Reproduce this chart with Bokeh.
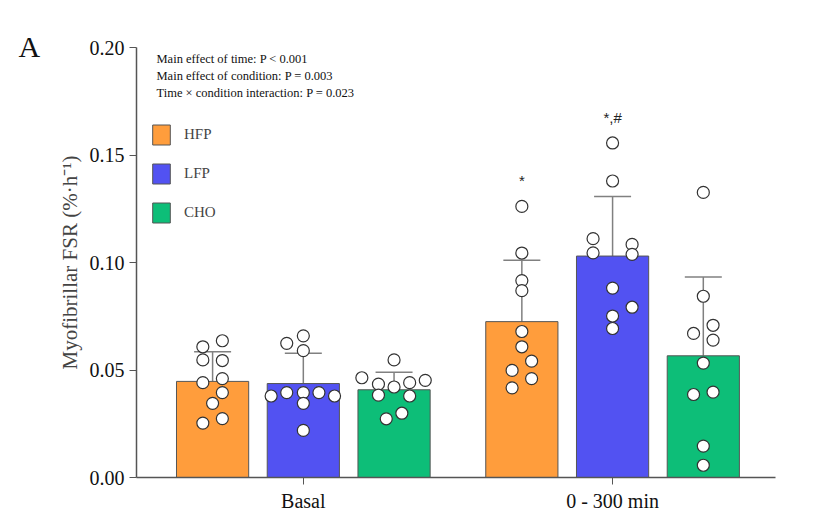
from bokeh.plotting import figure
from bokeh.models import Range1d, ColumnDataSource, Whisker, TeeHead, Label, Legend, LegendItem, FixedTicker, Title, NumeralTickFormatter
from bokeh.embed import file_html
from bokeh.resources import INLINE

groups = ["Basal", "0 - 300 min"]
conditions = ["HFP", "LFP", "CHO"]
colors = ["#FF9D3C", "#5252F2", "#0DBE78"]
means = {"HFP": [0.0447, 0.0725], "LFP": [0.0437, 0.1030], "CHO": [0.0408, 0.0566]}
sd_top = {"HFP": [0.0585, 0.1010], "LFP": [0.0578, 0.1307], "CHO": [0.0489, 0.0932]}
points = {
    ("HFP", 0): [0.0636, 0.0608, 0.0547, 0.0544, 0.0441, 0.0460, 0.0395, 0.0345, 0.0253, 0.0274],
    ("LFP", 0): [0.0659, 0.0624, 0.0590, 0.0379, 0.0395, 0.0395, 0.0395, 0.0379, 0.0345, 0.0219],
    ("CHO", 0): [0.0547, 0.0464, 0.0452, 0.0434, 0.0441, 0.0421, 0.0383, 0.0379, 0.0273, 0.0299],
    ("HFP", 1): [0.1261, 0.1044, 0.0916, 0.0869, 0.0679, 0.0608, 0.0541, 0.0498, 0.0460, 0.0417],
    ("LFP", 1): [0.1556, 0.1379, 0.1111, 0.1084, 0.1045, 0.1038, 0.0881, 0.0792, 0.0751, 0.0693],
    ("CHO", 1): [0.1326, 0.0843, 0.0708, 0.0670, 0.0639, 0.0532, 0.0386, 0.0397, 0.0146, 0.0057],
}
# horizontal jitter (layout, in x units)
jitter = {
    ("HFP", 0): [10, -10, -10, 10, -10, 10, 10, 0, -10, 10],
    ("LFP", 0): [0, -17, 0, -33, -17, 0, 16, 32, 0, 0],
    ("CHO", 0): [0, -33, 32, -16, 16, 0, -16, 16, -8, 8],
    ("HFP", 1): [0, 0, 0, 0, 0, 0, 10, -10, 10, -10],
    ("LFP", 1): [0, 0, -20, 20, -20, 20, 0, 20, 0, 0],
    ("CHO", 1): [0, 0, 10, -10, 10, 0, -10, 10, 0, 0],
}
annot = {"HFP": [None, "*"], "LFP": [None, "*,#"], "CHO": [None, None]}

group_x = [171, 488]
offset = {"HFP": -93, "LFP": 0, "CHO": 93}

serif = "Liberation Serif"
p = figure(width=800, height=522, output_backend="svg", toolbar_location=None,
           x_range=Range1d(0, 655), y_range=Range1d(0, 0.2),
           min_border_left=136, min_border_top=47, min_border_right=25, min_border_bottom=45)
p.xgrid.visible = False
p.ygrid.visible = False
p.outline_line_color = None

items = []
for c, col in zip(conditions, colors):
    xs = [gx + offset[c] for gx in group_x]
    src = ColumnDataSource(dict(x=xs, top=means[c], up=sd_top[c]))
    r = p.vbar(x="x", top="top", width=74, source=src, fill_color=col, line_color="#555555", line_width=1)
    items.append(LegendItem(label=c, renderers=[r]))
    w = Whisker(base="x", lower="top", upper="up", source=src, line_color="#808080", line_width=1.5,
                upper_head=TeeHead(size=37, line_color="#808080", line_width=1.5), lower_head=None)
    p.add_layout(w)
    for gi in range(2):
        px = [xs[gi] + j for j in jitter[(c, gi)]]
        p.scatter(px, points[(c, gi)], size=12, fill_color="white", line_color="#333333", line_width=1.2)
        if annot[c][gi]:
            ymax = max(points[(c, gi)])
            p.text([xs[gi]], [ymax + 0.008], text=[annot[c][gi]], text_align="center", text_baseline="bottom",
                   text_font_size="15px", text_color="#222222")

legend = Legend(items=items, location=(14, 252), glyph_width=22, glyph_height=25, spacing=14,
                label_text_font=serif, label_text_font_size="15px", background_fill_alpha=0,
                border_line_color=None, label_standoff=12)
p.add_layout(legend, "center")

p.yaxis.ticker = FixedTicker(ticks=[0, 0.05, 0.10, 0.15, 0.20])
p.yaxis.formatter = NumeralTickFormatter(format="0.00")
p.xaxis.ticker = FixedTicker(ticks=group_x)
p.xaxis.major_label_overrides = {group_x[0]: groups[0], group_x[1]: groups[1]}
for ax in (p.xaxis, p.yaxis):
    ax.major_label_text_font = serif
    ax.major_label_text_font_size = "20px"
    ax.major_label_text_color = "#111111"
    ax.axis_line_color = "#555555"
    ax.major_tick_line_color = "#555555"
    ax.axis_line_width = 1.5
    ax.minor_tick_line_color = None
    ax.major_tick_in = 0
    ax.major_tick_out = 7
p.yaxis.axis_label = "Myofibrillar FSR (%·h⁻¹)"
p.yaxis.axis_label_text_font = serif
p.yaxis.axis_label_text_font_size = "21px"
p.yaxis.axis_label_text_font_style = "normal"

for i, t in enumerate(["Main effect of time: P < 0.001", "Main effect of condition: P = 0.003",
                       "Time × condition interaction: P = 0.023"]):
    p.add_layout(Label(x=20, y=412 - i * 17, x_units="screen", y_units="screen", text=t,
                       text_font=serif, text_font_size="12.5px", text_color="#111111"))
p.add_layout(Title(text="A", align="left", offset=-118, text_font=serif, text_font_size="30px",
                   text_font_style="normal", text_color="#111111", standoff=-30), "above")

open("out.html", "w").write(file_html(p, INLINE))
